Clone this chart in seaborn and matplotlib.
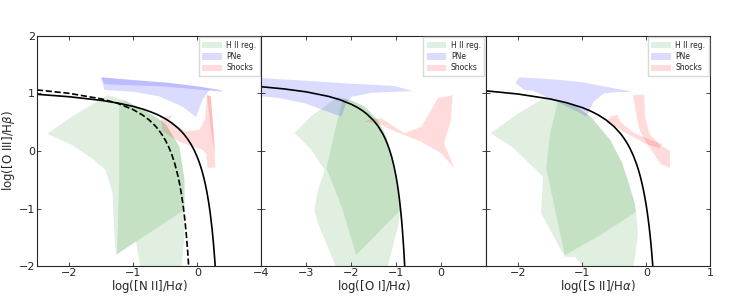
import matplotlib
matplotlib.use("Agg")
import matplotlib.pyplot as plt
import seaborn as sns

# ---------------------------------- DATOS ----------------------------------

# Lineas de demarcacion
kewley_nii_x = [-2.5, -2.0, -1.5, -1.25, -1.0, -0.85, -0.75, -0.65, -0.6, -0.5, -0.4, -0.3, -0.25, -0.2, -0.15,
                -0.1, -0.05, 0.0, 0.025, 0.05, 0.075, 0.1, 0.125, 0.15, 0.175, 0.2, 0.23, 0.25, 0.27, 0.28]
kewley_nii_y = [0.985, 0.943, 0.880, 0.835, 0.775, 0.728, 0.69, 0.645, 0.620, 0.561, 0.489, 0.398, 0.343, 0.280, 0.206,
                0.120, 0.017, -0.108, -0.181, -0.262, -0.354, -0.459, -0.578, -0.716, -0.878, -1.069, -1.352, -1.583, -1.86, -2.021]

kauff_nii_x = [-2.5, -2.0, -1.5, -1.25, -1.0, -0.85, -0.75, -0.65, -0.6, -0.55, -0.5, -0.45, -0.4, -0.35, -0.3,
               -0.275, -0.25, -0.225, -0.2, -0.185, -0.17, -0.16, -0.15, -0.135, -0.13]
kauff_nii_y = [1.061, 1.002, 0.906, 0.831, 0.719, 0.622, 0.538, 0.429, 0.362, 0.283, 0.191, 0.08, -0.056, -0.225, -0.443,
               -0.577, -0.733, -0.918, -1.14, -1.296, -1.473, -1.605, -1.75, -1.997, -2.089]

kewley_oi_x = [-4.0, -3.5, -3.0, -2.5, -2.25, -2.0, -1.85, -1.75, -1.65, -1.5, -1.4, -1.3, -1.25, -1.2, -1.15,
               -1.1, -1.05, -1.0, -0.975, -0.95, -0.925, -0.9, -0.88, -0.86, -0.83, -0.81, -0.80]
kewley_oi_y = [1.116, 1.079, 1.027, 0.948, 0.890, 0.812, 0.751, 0.701, 0.641, 0.528, 0.429, 0.302, 0.224, 0.133, 0.026,
               -0.101, -0.257, -0.450, -0.566, -0.698, -0.849, -1.025, -1.187, -1.374, -1.712, -1.988, -2.146]

kewley_sii_x = [-2.5, -2.0, -1.5, -1.25, -1.0, -0.875, -0.75, -0.625, -0.5, -0.4, -0.35, -0.3, -0.25, -0.2, -0.15,
                -0.125, -0.1, -0.075, -0.05, -0.025, 0.0, 0.015, 0.03, 0.045, 0.06, 0.07, 0.08, 0.09, 0.10, 0.11]
kewley_sii_y = [1.045, 0.990, 0.904, 0.841, 0.755, 0.698, 0.627, 0.538, 0.422, 0.30, 0.225, 0.139, 0.037, -0.085, -0.232,
                -0.318, -0.414, -0.523, -0.646, -0.787, -0.95, -1.061, -1.183, -1.318, -1.469, -1.58, -1.70, -1.83, -1.973, -2.129]

# Regiones de modelos (contornos aproximados)
nii_hii = [(-2.34, 0.30), (-1.95, 0.60), (-1.40, 0.97), (-1.11, 0.87), (-0.75, 0.66), (-0.5, 0.48),
           (-0.28, 0.08), (-0.2, -0.5), (-0.2, -1.02), (-0.2, -1.49), (-0.25, -2.05), (-0.88, -2.05),
           (-0.96, -1.57), (-1.27, -1.81), (-1.30, -1.32), (-1.32, -0.74), (-1.43, -0.33),
           (-1.64, -0.13), (-1.95, 0.10)]
nii_hii_overlap = [(-1.22, 0.86), (-1.11, 0.87), (-0.75, 0.66), (-0.5, 0.48), (-0.28, 0.08), (-0.2, -0.5),
                   (-0.2, -1.02), (-0.73, -1.41), (-1.25, -1.79), (-1.22, -0.5)]
nii_pne = [(-1.50, 1.28), (-1.0, 1.23), (-0.4, 1.18), (0.05, 1.12), (0.40, 1.03), (0.19, 1.06),
           (0.08, 0.89), (-0.02, 0.59), (-0.23, 0.77), (-0.6, 0.95), (-1.0, 1.03), (-1.45, 1.06)]
nii_pne_band = [(-1.50, 1.28), (-0.5, 1.19), (0.34, 1.07), (0.40, 1.03), (-0.5, 1.12), (-1.45, 1.16)]
nii_shock = [(-0.57, 0.54), (-0.39, 0.63), (-0.45, 0.50), (-0.30, 0.42), (-0.18, 0.34), (0.03, 0.37),
             (0.12, 0.55), (0.14, 0.80), (0.15, 0.97), (0.21, 0.95), (0.24, 0.5), (0.27, 0.0),
             (0.28, -0.28), (0.16, -0.30), (0.14, -0.05), (0.08, 0.02), (-0.28, 0.16), (-0.54, 0.34)]
nii_shock_band = [(0.15, 0.97), (0.21, 0.95), (0.26, 0.3), (0.28, -0.05), (0.22, 0.3)]

oi_hii = [(-3.26, 0.31), (-2.9, 0.6), (-2.3, 0.94), (-2.0, 0.88), (-1.70, 0.77), (-1.41, 0.54),
          (-1.22, 0.25), (-1.07, -0.21), (-0.98, -0.6), (-0.91, -1.03), (-0.96, -1.32), (-1.2, -2.05),
          (-2.32, -2.05), (-2.74, -1.26), (-2.82, -1.03), (-2.75, -0.7), (-2.59, -0.33), (-2.89, 0.02)]
oi_hii_overlap = [(-2.18, 0.92), (-2.0, 0.88), (-1.70, 0.77), (-1.41, 0.54), (-1.22, 0.25), (-1.07, -0.21),
                  (-0.98, -0.6), (-0.91, -1.03), (-1.4, -1.42), (-1.89, -1.81), (-2.2, -1.0),
                  (-2.55, -0.3), (-2.35, 0.4)]
oi_pne = [(-4.1, 1.27), (-3.0, 1.22), (-2.0, 1.17), (-1.04, 1.13), (-0.63, 1.04), (-1.56, 1.01),
          (-2.0, 0.94), (-2.11, 0.83), (-2.22, 0.60), (-2.44, 0.66), (-3.04, 0.83), (-3.6, 0.92),
          (-4.1, 0.96)]
oi_shock = [(-1.70, 0.51), (-1.56, 0.55), (-1.33, 0.57), (-1.1, 0.45), (-0.81, 0.31), (-0.44, 0.42),
            (-0.22, 0.71), (-0.07, 0.92), (0.26, 0.97), (0.22, 0.54), (0.07, 0.13), (0.30, -0.30),
            (0.0, -0.04), (-0.44, 0.16), (-1.11, 0.37), (-1.41, 0.48)]

sii_hii = [(-2.43, 0.31), (-2.0, 0.65), (-1.56, 0.94), (-1.38, 0.88), (-1.1, 0.78), (-0.87, 0.6),
           (-0.56, 0.19), (-0.38, -0.2), (-0.29, -0.5), (-0.18, -0.9), (-0.16, -1.06), (-0.13, -1.43),
           (-0.17, -1.8), (-0.21, -2.05), (-0.95, -2.05), (-1.11, -1.84), (-1.27, -1.84),
           (-1.64, -1.08), (-1.61, -0.45), (-1.83, -0.21), (-2.09, 0.07)]
sii_hii_overlap = [(-1.38, 0.85), (-1.1, 0.78), (-0.87, 0.6), (-0.56, 0.19), (-0.38, -0.2), (-0.29, -0.5),
                   (-0.18, -0.9), (-0.16, -1.06), (-0.7, -1.45), (-1.27, -1.81), (-1.56, -0.3), (-1.5, 0.3)]
sii_pne = [(-2.04, 1.18), (-1.98, 1.28), (-1.5, 1.25), (-1.03, 1.2), (-0.21, 1.03), (-0.5, 1.02),
           (-0.66, 1.0), (-0.82, 0.86), (-0.93, 0.60), (-1.1, 0.7), (-1.40, 0.86), (-1.77, 1.05),
           (-1.90, 1.06)]
sii_shock = [(-0.21, 0.97), (-0.03, 0.98), (-0.02, 0.6), (0.05, 0.3), (0.2, 0.12), (0.37, 0.0),
             (0.37, -0.30), (0.22, -0.22), (0.12, -0.05), (0.0, 0.15), (-0.1, 0.35), (-0.15, 0.6)]
sii_shock_wing = [(-0.56, 0.6), (-0.45, 0.63), (-0.4, 0.5), (-0.2, 0.32), (0.05, 0.2), (0.25, 0.12),
                  (0.2, 0.05), (0.0, 0.12), (-0.3, 0.3), (-0.55, 0.48), (-0.63, 0.48)]

# Ejes
x_labels = ["log([N II]/H$\\alpha$)", "log([O I]/H$\\alpha$)", "log([S II]/H$\\alpha$)"]
x_limits = [(-2.5, 1.0), (-4.0, 1.0), (-2.5, 1.0)]
x_ticks = [[-2, -1, 0], [-4, -3, -2, -1, 0], [-2, -1, 0, 1]]
y_ticks = [-2, -1, 0, 1, 2]

# ---------------------------------- GRAFICO ----------------------------------

sns.set_style("white", {"xtick.direction": "in", "ytick.direction": "in"})
plt.rcParams["font.family"] = ["DejaVu Sans"]

fig, axes = plt.subplots(1, 3, figsize=(7.47, 2.99), dpi=100, sharey=True)
fig.subplots_adjust(left=0.0495, right=0.951, top=0.880, bottom=0.110, wspace=0)

regiones = [
    {"hii": [nii_hii, nii_hii_overlap], "pne": [nii_pne, nii_pne_band], "shock": [nii_shock, nii_shock_band]},
    {"hii": [oi_hii, oi_hii_overlap], "pne": [oi_pne], "shock": [oi_shock]},
    {"hii": [sii_hii, sii_hii_overlap], "pne": [sii_pne], "shock": [sii_shock, sii_shock_wing]},
]
estilos = {"hii": ("green", 0.12, "H II reg."), "pne": ("blue", 0.14, "PNe"), "shock": ("red", 0.14, "Shocks")}

# Lineas de demarcacion
sns.lineplot(x=kewley_nii_x, y=kewley_nii_y, ax=axes[0], color="black", lw=1.2, sort=False)
sns.lineplot(x=kauff_nii_x, y=kauff_nii_y, ax=axes[0], color="black", lw=1.2, ls="--", sort=False)
sns.lineplot(x=kewley_oi_x, y=kewley_oi_y, ax=axes[1], color="black", lw=1.2, sort=False)
sns.lineplot(x=kewley_sii_x, y=kewley_sii_y, ax=axes[2], color="black", lw=1.2, sort=False)

for i, ax in enumerate(axes):
    handles = []
    for clave, polys in regiones[i].items():
        color, alpha, etiqueta = estilos[clave]
        for j, poly in enumerate(polys):
            xs = [p[0] for p in poly]
            ys = [p[1] for p in poly]
            h = ax.fill(xs, ys, color=color, alpha=alpha, lw=0, label=etiqueta)
            if j == 0:
                handles.append(h[0])

    ax.set_xlim(*x_limits[i])
    ax.set_ylim(-2, 2)
    ax.set_xticks(x_ticks[i])
    ax.set_yticks(y_ticks)
    ax.tick_params(axis="both", which="both", direction="in", top=True, right=True,
                   bottom=True, left=True, length=3, width=0.6, labelsize=8, pad=1.5)
    ax.set_xlabel(x_labels[i], fontsize=8.5, labelpad=0)
    for s in ax.spines.values():
        s.set_color("0.15")
        s.set_linewidth(0.8)
    ax.legend(handles=handles, loc="upper right", fontsize=5.5, handlelength=2.6, handleheight=0.9,
              borderpad=0.45, labelspacing=0.3, handletextpad=0.6, borderaxespad=0.2,
              framealpha=1, edgecolor="0.85", fancybox=False)

axes[0].set_ylabel("log([O III]/H$\\beta$)", fontsize=8.5, labelpad=1)

fig.savefig("out.png", dpi=100)
